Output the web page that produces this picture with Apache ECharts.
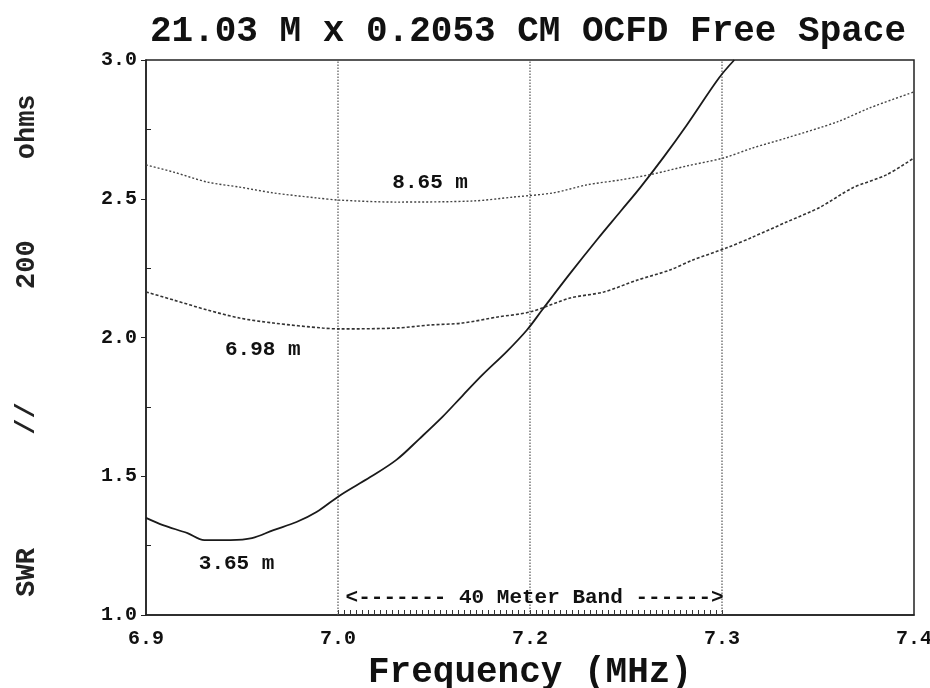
<!DOCTYPE html>
<html>
<head>
<meta charset="utf-8">
<script src="https://cdn.jsdelivr.net/npm/echarts@6/dist/echarts.min.js"></script>
<style>
html,body{margin:0;padding:0;background:#fff;}
#c{width:930px;height:688px;}
</style>
</head>
<body>
<div id="c"></div>
<script>
// ---- data ----
const titleText = '21.03 M x 0.2053 CM OCFD Free Space';
const xName = 'Frequency (MHz)';
const yName = 'SWR       //       200     ohms ';

// x tick positions and the labels printed under them
const xTickValues = [6.9, 7.025, 7.15, 7.275, 7.4];
const xTickLabels = ['6.9', '7.0', '7.2', '7.3', '7.4'];
const xGridValues = [7.025, 7.15, 7.275];
const yMinorValues = [1.25, 1.75, 2.25, 2.75];
const yMin = 1, yMax = 3;

// band ruler
const bandStart = 7.025, bandEnd = 7.275, bandDivisions = 64;
const bandText = '<------- 40 Meter Band ------>';

// series: [frequency, SWR]
const s365 = [
  [6.900,1.350],[6.911,1.324],[6.927,1.295],[6.938,1.270],[6.955,1.270],[6.969,1.277],
  [6.983,1.306],[6.998,1.335],[7.011,1.371],[7.026,1.430],[7.046,1.497],[7.063,1.559],
  [7.078,1.635],[7.093,1.714],[7.106,1.790],[7.119,1.865],[7.135,1.950],[7.148,2.027],
  [7.158,2.100],[7.176,2.230],[7.194,2.355],[7.209,2.455],[7.222,2.542],[7.237,2.650],
  [7.252,2.765],[7.273,2.935],[7.283,3.000]
];
const s865 = [
  [6.900,2.622],[6.918,2.596],[6.940,2.560],[6.961,2.542],[6.983,2.521],[7.011,2.503],
  [7.026,2.495],[7.063,2.488],[7.113,2.492],[7.139,2.506],[7.165,2.521],[7.187,2.550],
  [7.209,2.568],[7.230,2.589],[7.252,2.618],[7.276,2.647],[7.295,2.683],[7.317,2.719],
  [7.350,2.777],[7.371,2.827],[7.400,2.885]
];
const s698 = [
  [6.900,2.164],[6.918,2.135],[6.940,2.099],[6.961,2.070],[6.983,2.052],[7.015,2.034],
  [7.026,2.031],[7.063,2.034],[7.085,2.045],[7.106,2.052],[7.129,2.074],[7.150,2.092],
  [7.176,2.142],[7.198,2.164],[7.220,2.207],[7.241,2.243],[7.256,2.279],[7.278,2.323],
  [7.295,2.362],[7.317,2.416],[7.339,2.470],[7.360,2.539],[7.382,2.586],[7.400,2.647]
];

// curve labels: [text, frequency, SWR]
const curveLabels = [
  ['8.65 m', 7.085, 2.557],
  ['6.98 m', 6.976, 1.955],
  ['3.65 m', 6.959, 1.186]
];
const bandLabelPos = [7.153, 1.062];

// ---- build chart ----
const FONT = 'Liberation Mono';
const rulerValues = [];
for (let i = 0; i <= bandDivisions; i++) rulerValues.push(bandStart + (bandEnd - bandStart) * i / bandDivisions);

function xLabel(v) {
  let best = 0;
  for (let i = 1; i < xTickValues.length; i++) {
    if (Math.abs(xTickValues[i] - v) < Math.abs(xTickValues[best] - v)) best = i;
  }
  return xTickLabels[best];
}

const textPoints = curveLabels.map(l => ({
  coord: [l[1], l[2]],
  label: {formatter: l[0]}
}));
textPoints.push({coord: bandLabelPos, label: {formatter: bandText, fontSize: 21}});

const gridSeries = xGridValues.map(v => ({
  type: 'line', data: [[v, yMin], [v, yMax]], symbol: 'none', silent: true, z: 1,
  lineStyle: {color: '#555', width: 1.2, type: [1.5, 1.5]}
}));

const chart = echarts.init(document.getElementById('c'), null, {renderer: 'canvas'});
chart.setOption({
  animation: false,
  backgroundColor: '#fff',
  title: {
    text: titleText,
    left: 523,
    top: 9,
    textAlign: 'center',
    textStyle: {fontFamily: FONT, fontWeight: 'bold', fontSize: 36, color: '#111'}
  },
  grid: {left: 146, right: 16, top: 60, bottom: 73, show: true, borderColor: '#222', borderWidth: 1.5,
    backgroundColor: 'transparent', outerBoundsMode: 'none', containLabel: false},
  xAxis: [{
    type: 'value', min: 6.9, max: 7.4,
    name: xName, nameLocation: 'middle', nameGap: 40,
    nameTextStyle: {fontFamily: FONT, fontWeight: 'bold', fontSize: 36, color: '#111'},
    axisLine: {show: true, lineStyle: {color: '#222', width: 1.5}},
    axisTick: {show: true, inside: true, length: 5, customValues: rulerValues, lineStyle: {color: '#333', width: 1}},
    axisLabel: {show: true, customValues: xTickValues, formatter: xLabel, margin: 14,
      fontFamily: FONT, fontWeight: 'bold', fontSize: 20, color: '#111'},
    splitLine: {show: false}
  }],
  yAxis: [{
    type: 'value', min: yMin, max: yMax, interval: 0.5,
    name: yName, nameLocation: 'middle', nameGap: 105, nameRotate: 90,
    nameTextStyle: {fontFamily: FONT, fontWeight: 'bold', fontSize: 27, color: '#222'},
    axisLine: {show: true, lineStyle: {color: '#222', width: 1.5}},
    axisTick: {show: true, inside: false, length: 5, lineStyle: {color: '#222'}},
    axisLabel: {formatter: v => v.toFixed(1), margin: 9,
      fontFamily: FONT, fontWeight: 'bold', fontSize: 20, color: '#111'},
    splitLine: {show: false}
  }, {
    type: 'value', min: yMin, max: yMax, position: 'left',
    axisLine: {show: false},
    axisTick: {show: true, inside: true, length: 5, customValues: yMinorValues, lineStyle: {color: '#222'}},
    axisLabel: {show: false},
    splitLine: {show: false}
  }],
  series: [{
    name: '3.65 m', type: 'line', data: s365, showSymbol: false, symbol: 'none', smooth: 0.35, z: 3,
    lineStyle: {color: '#1a1a1a', width: 1.8, type: 'solid'},
    markPoint: {
      silent: true, symbol: 'circle', symbolSize: 1,
      itemStyle: {color: 'rgba(0,0,0,0)'},
      label: {show: true, position: 'inside', fontFamily: FONT, fontWeight: 'bold', fontSize: 21, color: '#111'},
      data: textPoints
    }
  }, {
    name: '8.65 m', type: 'line', data: s865, showSymbol: false, symbol: 'none', smooth: 0.3, z: 3,
    lineStyle: {color: '#444', width: 1.4, type: [2, 2]}
  }, {
    name: '6.98 m', type: 'line', data: s698, showSymbol: false, symbol: 'none', smooth: 0.3, z: 3,
    lineStyle: {color: '#333', width: 1.6, type: [3, 2]}
  }].concat(gridSeries)
});
</script>
</body>
</html>
